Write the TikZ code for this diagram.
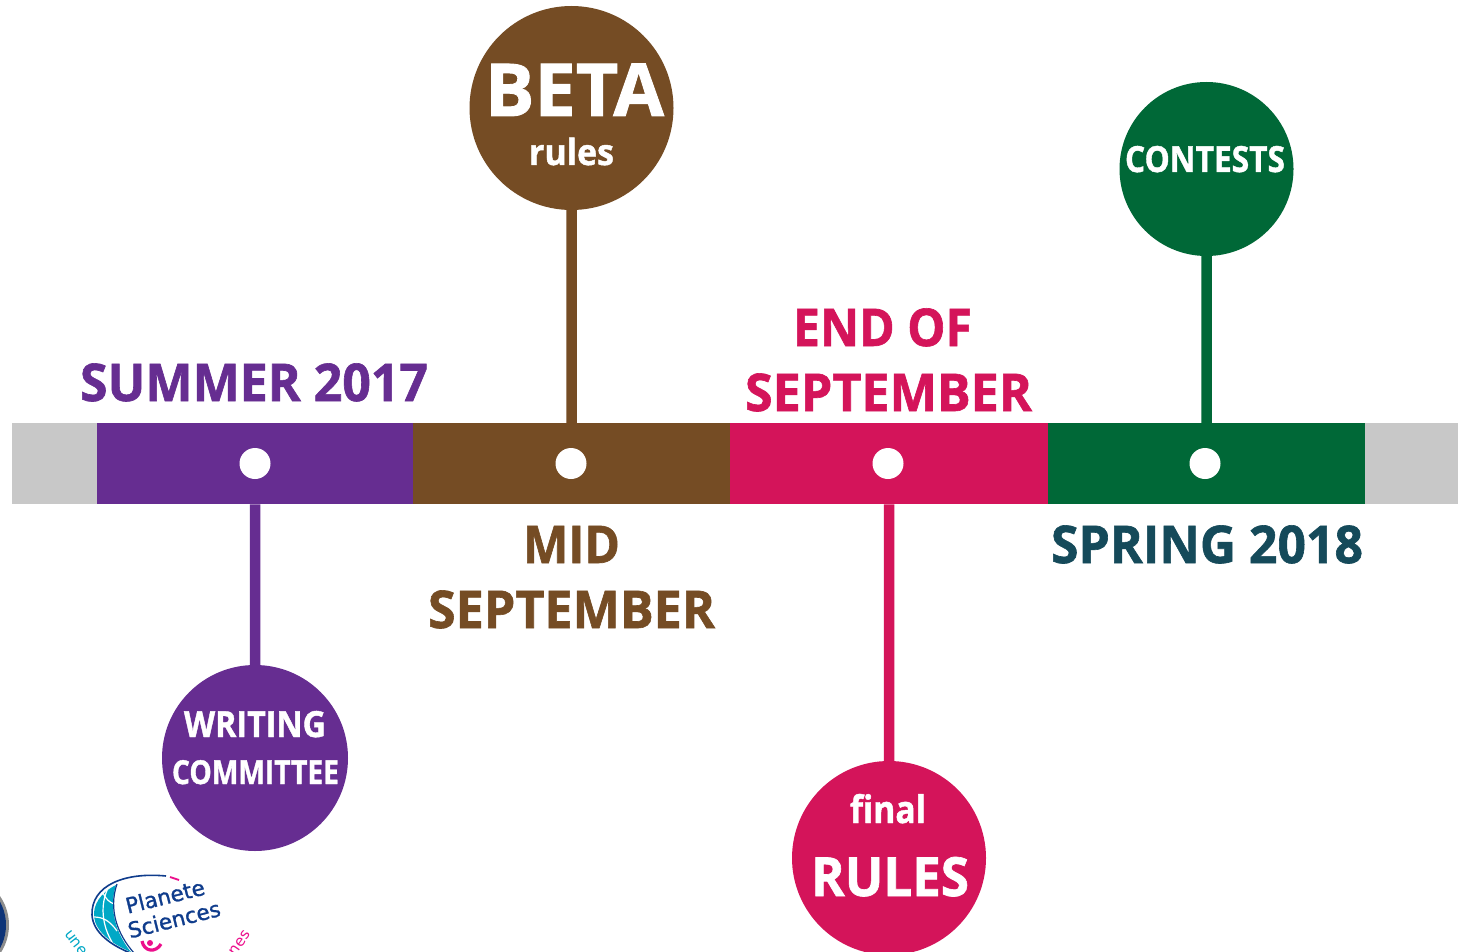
\documentclass[tikz,border=0pt]{standalone}
\usepackage{fontspec}
\usepackage{graphicx}
\setmainfont{Open Sans}[BoldFont={Open Sans Bold},BoldFeatures={FakeBold=1.2}]
\newfontfamily\logofont{DejaVu Sans}[FakeBold=1.2]
\newfontfamily\logosmall{DejaVu Sans}
\definecolor{cpurple}{HTML}{662D91}
\definecolor{cbrown}{HTML}{754C24}
\definecolor{cpink}{HTML}{D4145A}
\definecolor{cgreen}{HTML}{006837}
\definecolor{cteal}{HTML}{154A5A}
\definecolor{cgrey}{HTML}{C8C8C8}
\definecolor{lnavy}{HTML}{0F3C8C}
\definecolor{lcyan}{HTML}{00A8C6}
\definecolor{lmag}{HTML}{EC0F8C}
\newcommand\fitlab[3]{\fontsize{#1}{#1}\selectfont\bfseries\resizebox{#2pt}{\height}{#3}}
\tikzset{
  x=1pt,y=-1pt,
  seg/.style={fill=#1,inner sep=0pt,minimum height=81pt,anchor=north west,rectangle},
  dot/.style={circle,fill=white,inner sep=0pt,minimum size=31pt},
  bubble/.style={circle,fill=#1,inner sep=0pt},
  stem/.style={draw=#1,line width=10.5pt},
  lab/.style={inner sep=0pt,anchor=base,text=#1},
  logotxt/.style={inner sep=0pt,anchor=base,text=lnavy,font=\logofont\fontsize{21.5}{21.5}\selectfont,rotate=14},
}
\begin{document}
\begin{tikzpicture}
\useasboundingbox (0,0) rectangle (1458,952);
\clip (0,0) rectangle (1458,952);
\fill[white] (0,0) rectangle (1458,952);
% bubbles
\node[bubble=cbrown,minimum size=204pt] (beta) at (571.5,108) {};
\node[bubble=cgreen,minimum size=174pt] (contests) at (1206.5,169) {};
\node[bubble=cpurple,minimum size=186pt] (writing) at (255,758) {};
\node[bubble=cpink,minimum size=194pt] (final) at (889,858) {};
% bar
\node[seg=cgrey,minimum width=85pt] (gl) at (12,423) {};
\node[seg=cgrey,minimum width=93pt] (gr) at (1365,423) {};
\node[seg=cpurple,minimum width=316pt] (s1) at (97,423) {};
\node[seg=cbrown,minimum width=317pt] (s2) at (413,423) {};
\node[seg=cpink,minimum width=318pt] (s3) at (730,423) {};
\node[seg=cgreen,minimum width=317pt] (s4) at (1048,423) {};
% stems
\draw[stem=cpurple] (s1.south) -- (writing);
\draw[stem=cbrown] (s2.north) -- (beta);
\draw[stem=cpink] (s3.south) -- (final);
\draw[stem=cgreen] (s4.north) -- (contests);
% dots
\node[dot] (d1) at (255,463.5) {};
\node[dot] (d2) at (571,463.5) {};
\node[dot] (d3) at (888,463.5) {};
\node[dot] (d4) at (1205,463.5) {};
% date labels
\node[lab=cpurple] (t1) at (254,401) {\fitlab{52}{348}{SUMMER 2017}};
\node[lab=cbrown] (t2a) at (571.5,563) {\fitlab{52}{97}{MID}};
\node[lab=cbrown] (t2b) at (571.5,628) {\fitlab{52}{287}{SEPTEMBER}};
\node[lab=cpink] (t3a) at (882.5,346) {\fitlab{52}{179}{END OF}};
\node[lab=cpink] (t3b) at (888.5,411) {\fitlab{52}{287}{SEPTEMBER}};
\node[lab=cteal] (t4) at (1207,563) {\fitlab{52}{312}{SPRING 2018}};
% bubble labels
\node[lab=white] (b1) at (574.5,116) {\fitlab{73}{179}{BETA}};
\node[lab=white] (b2) at (571.5,165) {\fitlab{36}{85}{rules}};
\node[lab=white] (c1) at (1205,172) {\fitlab{36}{160}{CONTESTS}};
\node[lab=white] (w1) at (255,737) {\fitlab{36}{142}{WRITING}};
\node[lab=white] (w2) at (255.5,784) {\fitlab{33}{167}{COMMITTEE}};
\node[lab=white] (f1) at (888,823) {\fitlab{38}{76}{final}};
\node[lab=white] (f2) at (890,896) {\fitlab{54}{158}{RULES}};
% left badge, cut by the frame
\fill[black!45] (-42,925) circle (51pt);
\fill[lnavy!85!black] (-42,925) circle (48pt);
% logo
\fill[lcyan] (116,885) .. controls (100,893) and (93,905) .. (94,917) .. controls (96,932) and (112,944) .. (131,952) .. controls (117,935) and (108,910) .. (116,885) -- cycle;
\draw[white,line width=1.2pt] (103,893) .. controls (106,899) and (109,902) .. (114,904);
\draw[white,line width=1.2pt] (94,917) .. controls (103,917) and (110,921) .. (117,931);
\draw[white,line width=1.2pt] (108,888) .. controls (100,905) and (102,925) .. (112,942);
\draw[lnavy,line width=1.6pt] (166,876) .. controls (125,872) and (91,885) .. (92,915) .. controls (93,933) and (112,946) .. (133,954);
\draw[lnavy,line width=1.2pt] (117,884) .. controls (108,910) and (118,935) .. (134,953);
\draw[lmag,line width=1.8pt] (170,877) -- (179,880);
\node[logotxt] (lp) at (167,904) {Planete};
\node[logotxt] (ls) at (176,927) {Sciences};
\fill[lmag] (150,943) circle (3pt);
\draw[lmag,line width=3.2pt] (142,941) .. controls (144,952) and (156,953) .. (161,944);
\node[inner sep=0pt,text=lcyan,rotate=-52,font=\logosmall\fontsize{15}{15}\selectfont] (lu) at (76,943) {une};
\node[inner sep=0pt,text=lmag,rotate=55,font=\logosmall\fontsize{15}{15}\selectfont] (ln) at (240,943) {nes};
\end{tikzpicture}
\end{document}
